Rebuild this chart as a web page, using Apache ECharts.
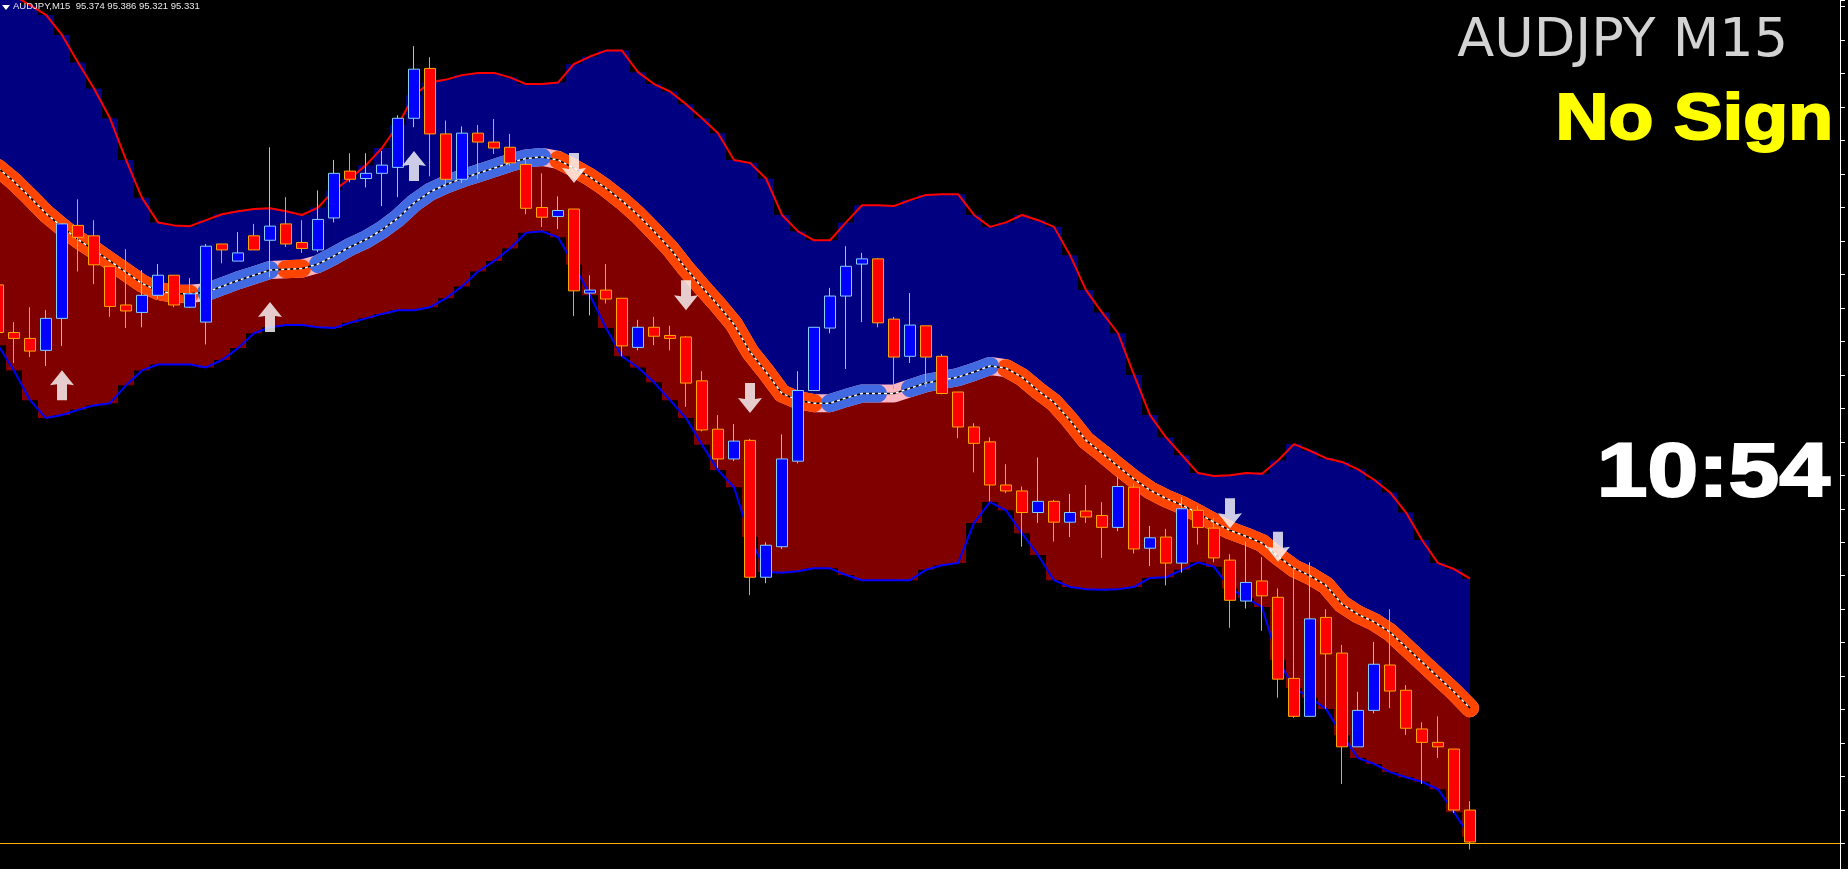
<!DOCTYPE html>
<html>
<head>
<meta charset="utf-8">
<title>AUDJPY M15</title>
<script src="https://cdn.jsdelivr.net/npm/echarts@6/dist/echarts.min.js"></script>
<style>
  html, body { margin: 0; padding: 0; background: #000; }
  #chart { width: 1848px; height: 877px; }
</style>
</head>
<body>
<div id="chart"></div>
<script>
// bar index of the first (half cut) candle; the rest follow one per bar
const firstBar = -1;

const opens = [96.080, 96.016, 96.008, 95.992, 96.035, 96.160, 96.146, 96.105, 96.053, 96.043,
  96.066, 96.093, 96.050, 96.030, 96.135, 96.112, 96.146, 96.140, 96.162, 96.137,
  96.127, 96.170, 96.233, 96.223, 96.230, 96.238, 96.304, 96.371, 96.283, 96.222,
  96.284, 96.272, 96.265, 96.242, 96.184, 96.172, 96.182, 96.069, 96.073, 96.062,
  95.996, 96.023, 96.012, 96.010, 95.951, 95.886, 95.846, 95.871, 95.687, 95.728,
  95.843, 95.938, 96.022, 96.065, 96.108, 96.115, 96.034, 95.984, 96.025, 95.984,
  95.936, 95.889, 95.869, 95.811, 95.803, 95.774, 95.789, 95.761, 95.776, 95.770,
  95.754, 95.808, 95.726, 95.741, 95.706, 95.777, 95.753, 95.710, 95.655, 95.682,
  95.660, 95.551, 95.500, 95.633, 95.585, 95.459, 95.508, 95.569, 95.535, 95.483,
  95.465, 95.456, 95.374];
const closes = [96.016, 96.008, 95.991, 96.035, 96.162, 96.144, 96.107, 96.051, 96.045, 96.066,
  96.093, 96.053, 96.068, 96.132, 96.127, 96.123, 96.127, 96.159, 96.135, 96.129,
  96.168, 96.230, 96.222, 96.230, 96.241, 96.304, 96.370, 96.283, 96.222, 96.284,
  96.272, 96.264, 96.244, 96.183, 96.171, 96.180, 96.072, 96.073, 96.061, 95.998,
  96.023, 96.011, 96.008, 95.948, 95.885, 95.846, 95.870, 95.687, 95.730, 95.846,
  95.938, 96.023, 96.065, 96.105, 96.115, 96.029, 95.983, 96.026, 95.983, 95.934,
  95.889, 95.867, 95.811, 95.803, 95.774, 95.789, 95.761, 95.774, 95.768, 95.754,
  95.809, 95.725, 95.740, 95.706, 95.779, 95.754, 95.713, 95.656, 95.680, 95.662,
  95.550, 95.500, 95.631, 95.584, 95.459, 95.508, 95.570, 95.534, 95.484, 95.465,
  95.459, 95.374, 95.331];
const lows = [96.006, 95.975, 95.983, 95.971, 95.998, 96.098, 96.081, 96.037, 96.022, 96.023,
  96.061, 96.050, 96.049, 96.000, 96.109, 96.112, 96.127, 96.090, 96.131, 96.123,
  96.124, 96.164, 96.218, 96.211, 96.186, 96.198, 96.292, 96.226, 96.211, 96.217,
  96.222, 96.256, 96.240, 96.175, 96.158, 96.155, 96.038, 96.039, 96.055, 95.984,
  95.992, 95.999, 95.992, 95.916, 95.883, 95.834, 95.843, 95.663, 95.679, 95.725,
  95.840, 95.938, 96.015, 95.967, 96.030, 96.023, 95.940, 95.975, 95.943, 95.933,
  95.874, 95.828, 95.789, 95.800, 95.728, 95.760, 95.735, 95.741, 95.760, 95.713,
  95.749, 95.719, 95.702, 95.676, 95.693, 95.731, 95.707, 95.619, 95.645, 95.615,
  95.525, 95.498, 95.499, 95.510, 95.409, 95.459, 95.504, 95.511, 95.475, 95.409,
  95.444, 95.370, 95.321];
const highs = [96.086, 96.030, 96.050, 96.046, 96.162, 96.195, 96.167, 96.105, 96.128, 96.100,
  96.108, 96.093, 96.089, 96.135, 96.135, 96.151, 96.162, 96.265, 96.198, 96.167,
  96.207, 96.248, 96.257, 96.257, 96.260, 96.308, 96.401, 96.386, 96.301, 96.293,
  96.295, 96.303, 96.283, 96.252, 96.230, 96.199, 96.182, 96.093, 96.108, 96.062,
  96.033, 96.037, 96.025, 96.011, 95.964, 95.905, 95.893, 95.873, 95.734, 95.879,
  95.964, 96.023, 96.076, 96.132, 96.123, 96.116, 96.037, 96.069, 96.025, 95.987,
  95.936, 95.894, 95.875, 95.839, 95.809, 95.848, 95.791, 95.799, 95.811, 95.788,
  95.822, 95.813, 95.756, 95.752, 95.795, 95.783, 95.767, 95.718, 95.735, 95.714,
  95.672, 95.699, 95.707, 95.644, 95.596, 95.533, 95.600, 95.644, 95.542, 95.492,
  95.500, 95.456, 95.386];

// channel indicator
const upperBand = [96.503, 96.469, 96.456, 96.443, 96.416, 96.379, 96.344, 96.304, 96.248, 96.197,
  96.164, 96.160, 96.159, 96.167, 96.175, 96.179, 96.182, 96.183, 96.179, 96.174,
  96.184, 96.207, 96.223, 96.241, 96.264, 96.295, 96.335, 96.352, 96.356, 96.362,
  96.365, 96.365, 96.359, 96.350, 96.350, 96.352, 96.377, 96.387, 96.395, 96.395,
  96.366, 96.350, 96.340, 96.323, 96.304, 96.284, 96.248, 96.244, 96.223, 96.174,
  96.152, 96.140, 96.140, 96.164, 96.187, 96.187, 96.186, 96.194, 96.201, 96.202,
  96.202, 96.174, 96.158, 96.164, 96.174, 96.167, 96.158, 96.120, 96.073, 96.043,
  96.015, 95.959, 95.905, 95.875, 95.851, 95.827, 95.823, 95.824, 95.827, 95.826,
  95.844, 95.866, 95.857, 95.847, 95.842, 95.832, 95.818, 95.801, 95.774, 95.737,
  95.706, 95.698, 95.685];
const middleBand = [96.237, 96.219, 96.198, 96.176, 96.158, 96.141, 96.127, 96.112, 96.097, 96.082,
  96.072, 96.068, 96.068, 96.070, 96.078, 96.086, 96.093, 96.100, 96.101, 96.102,
  96.108, 96.119, 96.131, 96.141, 96.154, 96.170, 96.190, 96.205, 96.215, 96.223,
  96.230, 96.237, 96.244, 96.250, 96.252, 96.248, 96.237, 96.225, 96.210, 96.193,
  96.174, 96.152, 96.129, 96.102, 96.077, 96.053, 96.027, 95.990, 95.963, 95.934,
  95.925, 95.921, 95.921, 95.928, 95.934, 95.934, 95.934, 95.941, 95.948, 95.952,
  95.956, 95.963, 95.971, 95.968, 95.956, 95.938, 95.922, 95.898, 95.871, 95.854,
  95.836, 95.819, 95.804, 95.793, 95.784, 95.773, 95.761, 95.750, 95.742, 95.733,
  95.715, 95.699, 95.689, 95.676, 95.651, 95.637, 95.627, 95.613, 95.593, 95.573,
  95.553, 95.533, 95.511];
const lowerBand = [95.999, 95.965, 95.925, 95.901, 95.905, 95.912, 95.918, 95.921, 95.945, 95.965,
  95.973, 95.973, 95.973, 95.969, 95.979, 95.995, 96.015, 96.023, 96.026, 96.026,
  96.023, 96.022, 96.029, 96.035, 96.041, 96.046, 96.046, 96.050, 96.062, 96.078,
  96.098, 96.112, 96.129, 96.150, 96.152, 96.144, 96.107, 96.066, 96.022, 95.984,
  95.969, 95.949, 95.925, 95.901, 95.865, 95.831, 95.808, 95.741, 95.694, 95.693,
  95.695, 95.699, 95.699, 95.690, 95.683, 95.683, 95.683, 95.683, 95.697, 95.703,
  95.706, 95.760, 95.788, 95.777, 95.746, 95.717, 95.683, 95.674, 95.671, 95.670,
  95.671, 95.674, 95.686, 95.687, 95.697, 95.707, 95.701, 95.672, 95.659, 95.647,
  95.576, 95.538, 95.525, 95.510, 95.475, 95.444, 95.436, 95.425, 95.418, 95.412,
  95.402, 95.371, 95.338];
// d = falling (orange), u = rising (blue), n = flat (pink)
const trend = ('ddddddddddddd' + 'uuuuu' + 'dd' + 'uuuuuuuuuuuuuuu' +
  'ddddddddddddddddd' + 'uuuu' + 'n' + 'uuuuuu' + 'dddddddddddddddddddddddddddddd').split('');

// signal arrows: [bar, price]
const buyArrows = [[3, 95.945], [16, 96.037], [25, 96.240]];
const sellArrows = [[35, 96.237], [42, 96.066], [46, 95.928], [76, 95.773], [79, 95.728]];

const symbolName = 'AUDJPY';
const timeframe = 'M15';
const signalText = 'No Sign';
const timerText = '10:54';

// visible price window of the chart
const priceLow = 95.284;
const priceHigh = 96.463;

const bars = opens.map((_, i) => firstBar + i);
const candleData = bars.map((b, i) => [b, opens[i], closes[i], lows[i], highs[i]]);
const pairs = arr => bars.map((b, i) => [b, arr[i]]);
const bandPart = t => bars.map((b, i) => [b, trend[i] === t ? middleBand[i] : '-']);

const last = opens.length - 1;
const headerText = symbolName + ',' + timeframe + '  ' +
  [opens[last], highs[last], lows[last], closes[last]].map(v => v.toFixed(3)).join(' ');

// block arrow, pointing up; sells are rotated
const arrowPath = 'path://M12,0 L24,15 L17,14 L17,30 L7,30 L7,14 L0,15 Z';

const myChart = echarts.init(document.getElementById('chart'), null, { renderer: 'canvas' });

const thinLine = (name, data, color, width, z) => ({
  name: name,
  type: 'line',
  data: data,
  symbol: 'none',
  lineStyle: { color: color, width: width },
  silent: true,
  z: z
});

const thickLine = (name, data, color) => ({
  name: name,
  type: 'line',
  data: data,
  symbol: 'none',
  lineStyle: { color: color, width: 18, cap: 'round', join: 'round' },
  silent: true,
  z: 3
});

const stepFill = (name, data, color) => ({
  name: name,
  type: 'line',
  step: 'middle',
  data: data,
  symbol: 'none',
  lineStyle: { width: 0 },
  areaStyle: { color: color, opacity: 1, origin: 'start' },
  silent: true,
  z: 1
});

const option = {
  animation: false,
  backgroundColor: '#000000',
  grid: { left: 0, right: 8, top: 0, bottom: 0, containLabel: false },
  xAxis: {
    type: 'value',
    min: -0.875,
    max: 114.125,
    show: false,
    splitLine: { show: false }
  },
  yAxis: [
    {
      type: 'value',
      min: priceLow,
      max: priceHigh,
      show: false,
      splitLine: { show: false }
    },
    {
      // price scale edge with its tick marks
      type: 'value',
      position: 'right',
      min: 0,
      max: 1.179,
      interval: 0.045,
      axisLine: { show: true, lineStyle: { color: '#ffffff', width: 1 } },
      axisTick: { show: true, length: 5, lineStyle: { color: '#ffffff' } },
      axisLabel: { show: false },
      splitLine: { show: false }
    }
  ],
  series: [
    stepFill('upper fill', pairs(upperBand), '#000080'),
    stepFill('middle fill', pairs(middleBand), '#800000'),
    stepFill('lower fill', pairs(lowerBand), '#000000'),
    thinLine('upper', pairs(upperBand), '#ff0000', 2, 2),
    thinLine('lower', pairs(lowerBand), '#0000ff', 2, 2),
    thickLine('flat', pairs(middleBand), '#ffb6c1'),
    thickLine('falling', bandPart('d'), '#ff4500'),
    thickLine('rising', bandPart('u'), '#4169e1'),
    thinLine('mid core', pairs(middleBand), '#000000', 1.5, 4),
    {
      name: 'mid dots',
      type: 'line',
      data: pairs(middleBand),
      symbol: 'none',
      lineStyle: { color: '#ffffff', width: 1.5, type: [3, 3] },
      silent: true,
      z: 4
    },
    {
      name: 'AUDJPY',
      type: 'candlestick',
      data: candleData,
      encode: { x: 0, y: [1, 2, 3, 4] },
      barWidth: 11,
      itemStyle: {
        color: '#0000ff',
        color0: '#ff0000',
        borderColor: '#87cefa',
        borderColor0: '#ffa500',
        borderWidth: 1
      },
      markLine: {
        silent: true,
        symbol: 'none',
        label: { show: false },
        lineStyle: { color: '#ffb000', width: 1, type: 'solid' },
        data: [{ yAxis: closes[last] }]
      },
      silent: true,
      z: 5
    },
    {
      name: 'buy',
      type: 'scatter',
      data: buyArrows,
      symbol: arrowPath,
      symbolSize: [24, 30],
      itemStyle: { color: '#ffffff' },
      silent: true,
      z: 6
    },
    {
      name: 'sell',
      type: 'scatter',
      data: sellArrows,
      symbol: arrowPath,
      symbolSize: [24, 30],
      symbolRotate: 180,
      itemStyle: { color: '#ffffff' },
      silent: true,
      z: 6
    }
  ],
  graphic: [
    {
      type: 'polygon',
      shape: { points: [[2, 5], [10, 5], [6, 10]] },
      style: { fill: '#ffffff' },
      z: 10
    },
    {
      type: 'text',
      x: 13, y: 1,
      style: { text: headerText, fill: '#e8e8e8', font: '9.5px "Liberation Sans", Arial, sans-serif' },
      z: 10
    },
    {
      type: 'text',
      x: 1788, y: 15,
      style: {
        text: symbolName + ' ' + timeframe, fill: '#d3d3d3', align: 'right',
        font: '54px "DejaVu Sans", sans-serif'
      },
      z: 10
    },
    {
      type: 'text',
      x: 1833, y: 89,
      scaleX: 1.13,
      style: {
        text: signalText, fill: '#ffff00', align: 'right',
        stroke: '#ffff00', lineWidth: 2,
        font: 'bold 65px "Liberation Sans", Arial, sans-serif'
      },
      z: 10
    },
    {
      type: 'text',
      x: 1830, y: 437,
      scaleX: 1.2,
      style: {
        text: timerText, fill: '#ffffff', align: 'right',
        stroke: '#ffffff', lineWidth: 2,
        font: 'bold 76px "Liberation Sans", Arial, sans-serif'
      },
      z: 10
    },
    {
      type: 'rect',
      shape: { x: 0, y: 869, width: 1848, height: 8 },
      style: { fill: '#ffffff' },
      z: 10
    }
  ]
};

myChart.setOption(option);
window.addEventListener('resize', myChart.resize);
</script>
</body>
</html>
